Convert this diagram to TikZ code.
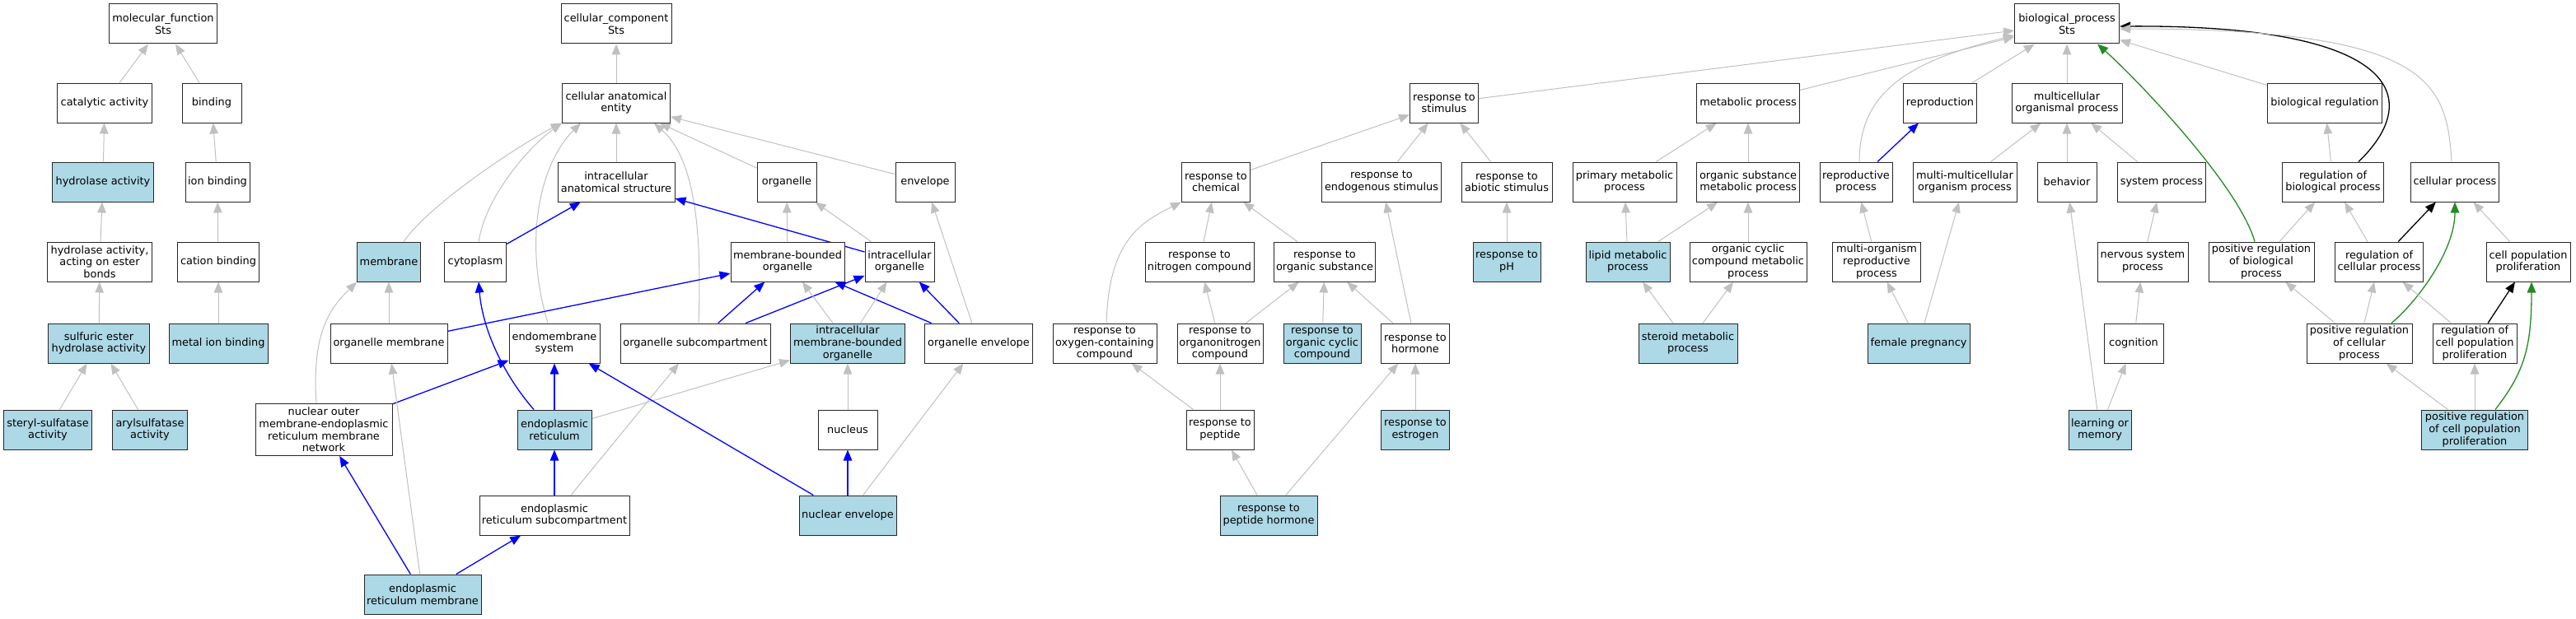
\documentclass[tikz,border=0pt]{standalone}
\usepackage{fontspec}
\setmainfont{DejaVu Sans}
\usepackage{tikz}
\definecolor{GoGray}{HTML}{C0C0C0}
\definecolor{GoHit}{HTML}{ADD8E6}
\definecolor{GoGreen}{HTML}{228B22}
\usetikzlibrary{backgrounds}
\usetikzlibrary{arrows.meta}
\newcommand{\picw}{3127}
\newcommand{\pich}{752}
\newcommand{\boxh}{48pt}
\newcommand{\tallh}{63pt}
\newcommand{\gofont}{\fontsize{12.9}{14.7}\selectfont}
\tikzset{
  term/.style={draw=black!85, line width=1pt, fill=white, align=center,
    inner xsep=1pt, inner ysep=0pt, minimum height=\boxh, font=\gofont},
  hit/.style={term, fill=GoHit},
  isa/.style={draw=GoGray, line width=1pt,
    -{Triangle[length=13pt,width=10.5pt]}},
  partof/.style={isa, draw=blue, line width=1.3pt},
  posreg/.style={isa, draw=GoGreen, line width=1.3pt},
  regul/.style={isa, draw=black, line width=1.3pt}
}
\begin{document}
\begin{tikzpicture}[x=1pt,y=-1pt]
    \useasboundingbox (0,0) rectangle (\picw,\pich);
    % molecular function part
    \node[term, minimum width=131pt] (mf) at (198,29) {molecular\_function\\Sts};
    \node[term, minimum width=115pt] (cat) at (127,125) {catalytic activity};
    \node[term, minimum width=72pt] (bind) at (257,125) {binding};
    \node[hit, minimum width=123pt] (hydro) at (125,221) {hydrolase activity};
    \node[term, minimum width=78pt] (ionb) at (264,221) {ion binding};
    \node[term, minimum width=127pt] (hester) at (121,318) {hydrolase activity,\\acting on ester\\bonds};
    \node[term, minimum width=99pt] (cationb) at (265,318) {cation binding};
    \node[hit, minimum width=123pt] (sulf) at (120,417) {sulfuric ester\\hydrolase activity};
    \node[hit, minimum width=120pt] (metalb) at (265,417) {metal ion binding};
    \node[hit, minimum width=107pt] (steryl) at (58,522) {steryl-sulfatase\\activity};
    \node[hit, minimum width=91pt] (aryl) at (182,522) {arylsulfatase\\activity};

    % cellular component part
    \node[term, minimum width=134pt] (cc) at (748,29) {cellular\_component\\Sts};
    \node[term, minimum width=131pt] (cae) at (748,125) {cellular anatomical\\entity};
    \node[term, minimum width=142pt] (ias) at (748,221) {intracellular\\anatomical structure};
    \node[term, minimum width=72pt] (orgn) at (955,221) {organelle};
    \node[term, minimum width=72pt] (envl) at (1123,221) {envelope};
    \node[hit, minimum width=77pt] (memb) at (472,318) {membrane};
    \node[term, minimum width=75pt] (cyto) at (577,318) {cytoplasm};
    \node[term, minimum width=138pt] (mbo) at (956,318) {membrane-bounded\\organelle};
    \node[term, minimum width=84pt] (io) at (1092,318) {intracellular\\organelle};
    \node[term, minimum width=142pt] (orgmem) at (472,417) {organelle membrane};
    \node[term, minimum width=110pt] (endo) at (673,417) {endomembrane\\system};
    \node[term, minimum width=182pt] (osub) at (844,417) {organelle subcompartment};
    \node[hit, minimum width=139pt] (imbo) at (1029,417) {intracellular\\membrane-bounded\\organelle};
    \node[term, minimum width=131pt] (oenv) at (1188,417) {organelle envelope};
    \node[term, minimum width=166pt, minimum height=\tallh] (nomn) at (393,522) {nuclear outer\\membrane-endoplasmic\\reticulum membrane\\network};
    \node[hit, minimum width=90pt] (er) at (673,522) {endoplasmic\\reticulum};
    \node[term, minimum width=72pt] (nuc) at (1029,522) {nucleus};
    \node[term, minimum width=182pt] (ersub) at (673,626) {endoplasmic\\reticulum subcompartment};
    \node[hit, minimum width=118pt] (nenv) at (1029,626) {nuclear envelope};
    \node[hit, minimum width=142pt] (ermem) at (513,722) {endoplasmic\\reticulum membrane};

    % biological process part
    \node[term, minimum width=127pt] (bp) at (2509,29) {biological\_process\\Sts};
    \node[term, minimum width=83pt] (stim) at (1753,125) {response to\\stimulus};
    \node[term, minimum width=125pt] (metab) at (2122,125) {metabolic process};
    \node[term, minimum width=89pt] (repro) at (2355,125) {reproduction};
    \node[term, minimum width=134pt] (multi) at (2509,125) {multicellular\\organismal process};
    \node[term, minimum width=139pt] (bioreg) at (2822,125) {biological regulation};
    \node[term, minimum width=83pt] (chem) at (1476,221) {response to\\chemical};
    \node[term, minimum width=145pt] (endog) at (1677,221) {response to\\endogenous stimulus};
    \node[term, minimum width=110pt] (abiot) at (1829,221) {response to\\abiotic stimulus};
    \node[term, minimum width=126pt] (primm) at (1972,221) {primary metabolic\\process};
    \node[term, minimum width=125pt] (osmp) at (2122,221) {organic substance\\metabolic process};
    \node[term, minimum width=88pt] (rproc) at (2253,221) {reproductive\\process};
    \node[term, minimum width=126pt] (mmop) at (2385,221) {multi-multicellular\\organism process};
    \node[term, minimum width=72pt] (behav) at (2509,221) {behavior};
    \node[term, minimum width=107pt] (sysp) at (2624,221) {system process};
    \node[term, minimum width=123pt] (rbp) at (2832,221) {regulation of\\biological process};
    \node[term, minimum width=107pt] (cellp) at (2980,221) {cellular process};
    \node[term, minimum width=132pt] (nitro) at (1456,318) {response to\\nitrogen compound};
    \node[term, minimum width=123pt] (orgsub) at (1608,318) {response to\\organic substance};
    \node[hit, minimum width=82pt] (ph) at (1829,318) {response to\\pH};
    \node[hit, minimum width=102pt] (lipid) at (1976,318) {lipid metabolic\\process};
    \node[term, minimum width=142pt] (occmp) at (2122,318) {organic cyclic\\compound metabolic\\process};
    \node[term, minimum width=107pt] (morp) at (2278,318) {multi-organism\\reproductive\\process};
    \node[term, minimum width=110pt] (nsp) at (2601,318) {nervous system\\process};
    \node[term, minimum width=128pt] (prbp) at (2745,318) {positive regulation\\of biological\\process};
    \node[term, minimum width=107pt] (rcp) at (2888,318) {regulation of\\cellular process};
    \node[term, minimum width=102pt] (cpp) at (3069,318) {cell population\\proliferation};
    \node[term, minimum width=126pt] (oxy) at (1341,417) {response to\\oxygen-containing\\compound};
    \node[term, minimum width=104pt] (orgnit) at (1481,417) {response to\\organonitrogen\\compound};
    \node[hit, minimum width=94pt] (orgcyc) at (1605,417) {response to\\organic cyclic\\compound};
    \node[term, minimum width=83pt] (horm) at (1718,417) {response to\\hormone};
    \node[hit, minimum width=120pt] (steroid) at (2049,417) {steroid metabolic\\process};
    \node[hit, minimum width=124pt] (fpreg) at (2329,417) {female pregnancy};
    \node[term, minimum width=72pt] (cogn) at (2590,417) {cognition};
    \node[term, minimum width=128pt] (prcp) at (2864,417) {positive regulation\\of cellular\\process};
    \node[term, minimum width=102pt] (rcpp) at (3004,417) {regulation of\\cell population\\proliferation};
    \node[term, minimum width=82pt] (pept) at (1481,522) {response to\\peptide};
    \node[hit, minimum width=83pt] (estr) at (1718,522) {response to\\estrogen};
    \node[hit, minimum width=76pt] (learn) at (2549,522) {learning or\\memory};
    \node[hit, minimum width=129pt] (prcpp) at (3004,522) {positive regulation\\of cell population\\proliferation};
    \node[hit, minimum width=118pt] (phorm) at (1540,626) {response to\\peptide hormone};

    \begin{scope}[on background layer]
      % molecular function edges
      \draw[isa] (cat) -- (mf);
      \draw[isa] (bind) -- (mf);
      \draw[isa] (hydro) -- (cat);
      \draw[isa] (ionb) -- (bind);
      \draw[isa] (hester) -- (hydro);
      \draw[isa] (cationb) -- (ionb);
      \draw[isa] (sulf) -- (hester);
      \draw[isa] (metalb) -- (cationb);
      \draw[isa] (steryl) -- (sulf);
      \draw[isa] (aryl) -- (sulf);

      % cellular component edges
      \draw[isa] (cae) -- (cc);
      \draw[isa] ([xshift=18pt]memb.north) .. controls +(35,-50) and +(-40,20) .. (cae.south west);
      \draw[isa] ([xshift=4pt]cyto.north) .. controls +(10,-60) and +(-35,25) .. (cae.south west);
      \draw[isa] (ias) -- (cae);
      \draw[isa] ([xshift=-8pt]endo.north) .. controls +(-30,-100) and +(-50,50) .. ([xshift=23pt]cae.south west);
      \draw[isa] ([xshift=4pt]osub.north) .. controls +(5,-130) and +(45,40) .. ([xshift=-20pt]cae.south east);
      \draw[isa] (orgn) -- (cae);
      \draw[isa] (envl) -- (cae);
      \draw[isa] (mbo) -- (orgn);
      \draw[isa] (io) -- (orgn);
      \draw[isa] (oenv) -- (envl);
      \draw[partof] (io) -- (ias);
      \draw[partof] (cyto) -- (ias);
      \draw[isa] (orgmem) -- (memb);
      \draw[partof] (orgmem) -- (mbo);
      \draw[partof] ([xshift=-25pt]er.north) .. controls +(-35,-40) and +(5,60) .. ([xshift=4pt]cyto.south);
      \draw[partof] (nomn) -- (endo);
      \draw[isa] ([xshift=-9pt]nomn.north) .. controls +(-6,-90) and +(-30,30) .. (memb.south west);
      \draw[partof] (ermem) -- (nomn);
      \draw[isa] (ermem) -- (orgmem);
      \draw[partof] (ermem) -- (ersub);
      \draw[partof] (ersub) -- (er);
      \draw[partof] (er) -- (endo);
      \draw[isa] (ersub) -- (osub);
      \draw[isa] (er) -- (imbo);
      \draw[partof] (nenv) -- (endo);
      \draw[partof] (nenv) -- (nuc);
      \draw[isa] (nenv) -- (oenv);
      \draw[isa] (nuc) -- (imbo);
      \draw[partof] (osub) -- (mbo);
      \draw[partof] (osub) -- (io);
      \draw[partof] (oenv) -- (mbo);
      \draw[partof] (oenv) -- (io);
      \draw[isa] (imbo) -- (mbo);
      \draw[isa] (imbo) -- (io);

      % biological process edges
      \draw[isa] (stim) -- (bp);
      \draw[isa] (metab) -- (bp);
      \draw[isa] ([xshift=4pt]rproc.north) .. controls +(0,-90) and +(-120,30) .. ([yshift=-14pt]bp.west);
      \draw[isa] (repro) -- (bp);
      \draw[isa] (multi) -- (bp);
      \draw[posreg] ([xshift=-8pt]prbp.north) .. controls +(-20,-70) and +(45,40) .. ([xshift=37pt]bp.south);
      \draw[isa] (bioreg) -- (bp);
      \draw[regul] ([xshift=31pt]rbp.north) .. controls +(80,-77) and +(340,-2) .. ([yshift=-3pt]bp.east);
      \draw[isa] ([xshift=-4pt]cellp.north) .. controls +(-6,-97) and +(377,0) .. ([yshift=-6pt]bp.east);
      \draw[isa] (chem) -- (stim);
      \draw[isa] (endog) -- (stim);
      \draw[isa] (abiot) -- (stim);
      \draw[isa] (primm) -- (metab);
      \draw[isa] (osmp) -- (metab);
      \draw[partof] (rproc) -- (repro);
      \draw[isa] (mmop) -- (multi);
      \draw[isa] (behav) -- (multi);
      \draw[isa] (sysp) -- (multi);
      \draw[isa] (rbp) -- (bioreg);
      \draw[isa] (ph) -- (abiot);
      \draw[isa] (nitro) -- (chem);
      \draw[isa] (orgsub) -- (chem);
      \draw[isa] ([xshift=2pt]oxy.north) .. controls +(3,-100) and +(-50,25) .. (chem.south west);
      \draw[isa] (lipid) -- (primm);
      \draw[isa] (lipid) -- (osmp);
      \draw[isa] (occmp) -- (osmp);
      \draw[isa] (morp) -- (rproc);
      \draw[isa] (nsp) -- (sysp);
      \draw[isa] (prbp) -- (rbp);
      \draw[isa] (rcp) -- (rbp);
      \draw[regul] (rcp) -- (cellp);
      \draw[isa] (cpp) -- (cellp);
      \draw[isa] (orgnit) -- (nitro);
      \draw[isa] (orgnit) -- (orgsub);
      \draw[isa] (orgcyc) -- (orgsub);
      \draw[isa] (horm) -- (orgsub);
      \draw[isa] (horm) -- (endog);
      \draw[isa] (steroid) -- (lipid);
      \draw[isa] (steroid) -- (occmp);
      \draw[isa] (fpreg) -- (morp);
      \draw[isa] (fpreg) -- (mmop);
      \draw[isa] (learn) -- (behav);
      \draw[isa] (cogn) -- (nsp);
      \draw[isa] (learn) -- (cogn);
      \draw[isa] (prcp) -- (prbp);
      \draw[isa] (prcp) -- (rcp);
      \draw[posreg] ([xshift=39pt]prcp.north) .. controls +(30,-25) and +(0,60) .. (cellp.south);
      \draw[isa] (rcpp) -- (rcp);
      \draw[regul] (rcpp) -- (cpp);
      \draw[isa] (prcpp) -- (prcp);
      \draw[isa] (prcpp) -- (rcpp);
      \draw[posreg] ([xshift=25pt]prcpp.north) .. controls +(35,-45) and +(0,80) .. ([xshift=4pt]cpp.south);
      \draw[isa] (pept) -- (oxy);
      \draw[isa] (pept) -- (orgnit);
      \draw[isa] (phorm) -- (pept);
      \draw[isa] (phorm) -- (horm);
      \draw[isa] (estr) -- (horm);
    \end{scope}
  \end{tikzpicture}
\end{document}
